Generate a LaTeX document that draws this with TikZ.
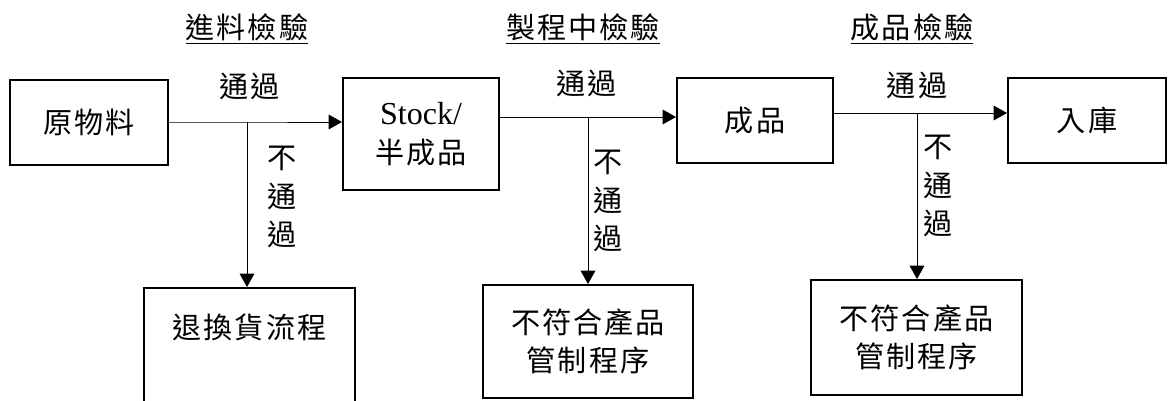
\documentclass[tikz,border=0pt]{standalone}
\usepackage{fontspec}
\setmainfont{Liberation Serif}
\newfontfamily\cjk[Scale=0.95,LetterSpace=7]{Noto Sans CJK TC}
\usetikzlibrary{arrows.meta}
\begin{document}
\begin{tikzpicture}[x=0.75pt,y=-0.75pt,
  every node/.style={font=\cjk\fontsize{23}{29}\selectfont,inner sep=0pt},
  box/.style={draw,line width=1.5pt,align=center},
  vlab/.style={align=center},
  pass/.style={line width=0.75pt,-{Triangle[length=10pt,width=11pt]}}]
\useasboundingbox (0,0) rectangle (1173,400);
\node at (247,29) (t1) {\underline{進料檢驗}};\node at (583,29) (t2) {\underline{製程中檢驗}};\node at (912,29) (t3) {\underline{成品檢驗}};
\node[box,minimum width=118.5pt,minimum height=63.75pt] at (89,122) (raw) {原物料};
\node[box,minimum width=117pt,minimum height=84pt] at (421,134) (stock) {{\rmfamily\fontsize{24}{29}\selectfont Stock/}\\半成品};
\node[box,minimum width=117pt,minimum height=63.75pt] at (755,120.5) (prod) {成品};
\node[box,minimum width=118.5pt,minimum height=63.75pt] at (1087,120.5) (store) {入庫};
\node[box,minimum width=158.25pt,minimum height=87pt] at (249.5,346) (ret) {退換貨流程\\~};
\node[box,minimum width=157.5pt,minimum height=84.75pt] at (588,341.5) (nc1) {不符合產品\\管制程序};
\node[box,minimum width=158.25pt,minimum height=86.25pt] at (916.5,337.5) (nc2) {不符合產品\\管制程序};
\coordinate (b1) at (247,122);\coordinate (b2) at (588,117);\coordinate (b3) at (917,113);
\draw[pass] (raw) -- (b1) -- (b1 -| stock.west);
\draw[pass] (b1) -- (b1 |- ret.north);
\draw[pass] (b2 -| stock.east) -- (b2 -| prod.west);
\draw[pass] (b2) -- (b2 |- nc1.north);
\draw[pass] (b3 -| prod.east) -- (b3 -| store.west);
\draw[pass] (b3) -- (b3 |- nc2.north);
\node at (250,86) (ok1) {通過};\node at (587,83) (ok2) {通過};\node at (917,85) (ok3) {通過};
\node[vlab] at (282,197) (ng1) {不\\通\\過};
\node[vlab] at (608,201) (ng2) {不\\通\\過};
\node[vlab] at (938,186) (ng3) {不\\通\\過};
\end{tikzpicture}
\end{document}
